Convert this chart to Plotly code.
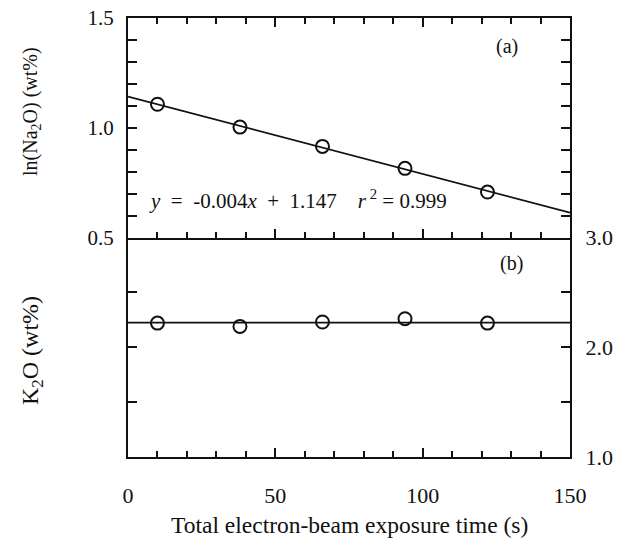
import numpy as np
import plotly.graph_objects as go

# ---- data ----
time_s = [10, 38, 66, 94, 122]
ln_na2o = [1.107, 1.003, 0.915, 0.815, 0.707]
k2o = [2.22, 2.19, 2.23, 2.26, 2.22]
x_tick_vals = [0, 50, 100, 150]
x_tick_text = ["0", "50", "100", "150"]
top_tick_vals = [0.5, 0.6, 0.7, 0.8, 0.9, 1.0, 1.1, 1.2, 1.3, 1.4, 1.5]
top_tick_text = ["0.5", "", "", "", "", "1.0", "", "", "", "", "1.5"]
bot_tick_vals = [1.0, 1.5, 2.0, 2.5, 3.0]
bot_tick_text = ["1.0", "", "2.0", "", "3.0"]
NB = "\u00a0"
equation_text = ("<i>y</i>" + NB * 2 + "=" + NB * 2 + "-0.004<i>x</i>" + NB * 2 + "+" + NB * 2
                 + "1.147" + NB * 4 + "<i>r</i><sup> 2</sup>" + NB + "=" + NB + "0.999")

# ---- fits ----
slope, intercept = np.polyfit(time_s, ln_na2o, 1)
fit_x = [0, 150]
fit_top = [intercept + slope * v for v in fit_x]
k_mean = float(np.mean(k2o))
fit_bot = [k_mean, k_mean]

FONT = "Liberation Serif"
INK = "#111"

fig = go.Figure()
fig.add_trace(go.Scatter(x=fit_x, y=fit_top, mode="lines",
                         line=dict(color=INK, width=1.8),
                         xaxis="x", yaxis="y", showlegend=False, hoverinfo="skip"))
fig.add_trace(go.Scatter(x=time_s, y=ln_na2o, mode="markers",
                         marker=dict(symbol="circle-open", size=13, color=INK,
                                     line=dict(width=2)),
                         xaxis="x", yaxis="y", showlegend=False))
fig.add_trace(go.Scatter(x=fit_x, y=fit_bot, mode="lines",
                         line=dict(color=INK, width=1.8),
                         xaxis="x2", yaxis="y2", showlegend=False, hoverinfo="skip"))
fig.add_trace(go.Scatter(x=time_s, y=k2o, mode="markers",
                         marker=dict(symbol="circle-open", size=13, color=INK,
                                     line=dict(width=2)),
                         xaxis="x2", yaxis="y2", showlegend=False))

common_x = dict(range=[0, 150], showgrid=False, zeroline=False, automargin=False,
                showline=True, linecolor=INK, linewidth=2,
                ticks="inside", tickcolor=INK, tickwidth=2, ticklen=9,
                tickmode="array", tickvals=x_tick_vals,
                minor=dict(dtick=10, tick0=0, ticks="inside", ticklen=6,
                           tickcolor=INK, tickwidth=1.6, showgrid=False))

fig.update_layout(
    width=630, height=544,
    margin=dict(l=128, r=60, t=18, b=87),
    paper_bgcolor="white", plot_bgcolor="white",
    font=dict(family=FONT, color=INK, size=21),
    xaxis=dict(**common_x, anchor="y", mirror="ticks", showticklabels=False),
    xaxis2=dict(**common_x, anchor="y2", mirror=False, matches="x",
                ticktext=x_tick_text, showticklabels=True, ticklabeloverflow="allow",
                ticklabelstandoff=18, tickfont=dict(size=22)),
    yaxis=dict(domain=[0.5, 1.0], range=[0.5, 1.5], anchor="x", automargin=False,
               showgrid=False, zeroline=False, showline=True,
               linecolor=INK, linewidth=2, mirror="ticks",
               ticks="inside", tickcolor=INK, tickwidth=2, ticklen=9,
               tickmode="array", tickvals=top_tick_vals, ticktext=top_tick_text,
               ticklabeloverflow="allow", ticklabelstandoff=8,
               tickfont=dict(size=21)),
    yaxis2=dict(domain=[0.0, 0.5], range=[1.0, 3.0], anchor="x2", automargin=False,
                side="right",
                showgrid=False, zeroline=False, showline=True,
                linecolor=INK, linewidth=2, mirror="ticks",
                ticks="inside", tickcolor=INK, tickwidth=2, ticklen=9,
                tickmode="array", tickvals=bot_tick_vals, ticktext=bot_tick_text,
                ticklabeloverflow="allow", ticklabelstandoff=9,
                tickfont=dict(size=22)),
    annotations=[
        dict(text="ln(Na<sub>2</sub>O) (wt%)", xref="paper", yref="paper",
             x=0, y=0.786, xanchor="center", yanchor="middle",
             xshift=-96, textangle=-90, showarrow=False,
             font=dict(family=FONT, size=20)),
        dict(text="K<sub>2</sub>O (wt%)", xref="paper", yref="paper",
             x=0, y=0.2415, xanchor="center", yanchor="middle",
             xshift=-96, textangle=-90, showarrow=False,
             font=dict(family=FONT, size=24)),
        dict(text="Total electron-beam exposure time (s)", xref="paper", yref="paper",
             x=0.5, y=0, xanchor="center", yanchor="middle", yshift=-68,
             showarrow=False, font=dict(family=FONT, size=23.5)),
        dict(text="(a)", xref="x", yref="y", x=128.6, y=1.37, showarrow=False,
             xanchor="center", yanchor="middle", font=dict(family=FONT, size=20)),
        dict(text="(b)", xref="x2", yref="y2", x=130.3, y=2.764, showarrow=False,
             xanchor="center", yanchor="middle", font=dict(family=FONT, size=20)),
        dict(text=equation_text, xref="x", yref="y", x=6.5, y=0.675, showarrow=False,
             xanchor="left", yanchor="middle", font=dict(family=FONT, size=21)),
    ],
)

fig.write_html("out.html",
               config={"displayModeBar": False},
               post_script="document.body.style.margin='0px';")
